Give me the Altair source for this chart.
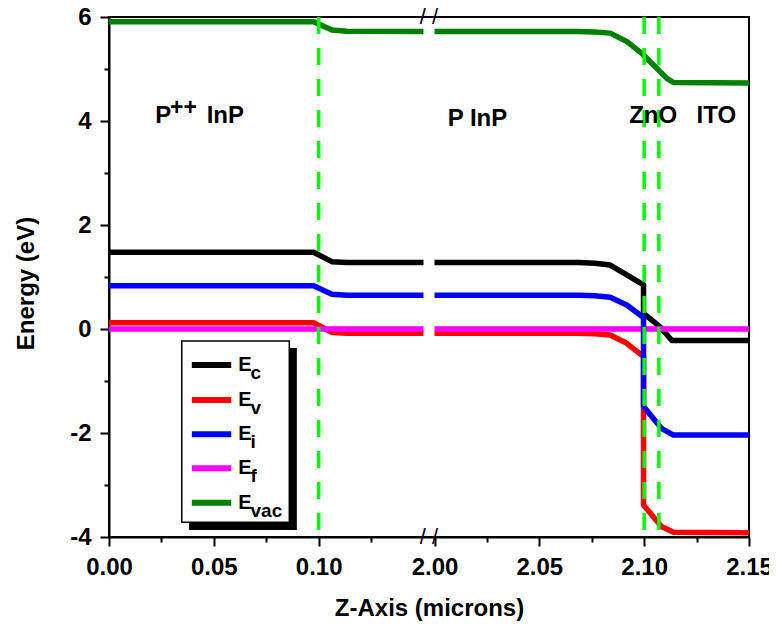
import altair as alt
import pandas as pd

# ---------------- data (real x in microns, energies in eV) ----------------
SERIES = ["Ec", "Ev", "Ei", "Ef", "Evac"]
COLORS = {"Ec": "#000000", "Ev": "#FF0000", "Ei": "#0000FF", "Ef": "#FF00FF", "Evac": "#008000"}
SUBS = {"Ec": "c", "Ev": "v", "Ei": "i", "Ef": "f", "Evac": "vac"}

left_x = [0.0, 0.0976, 0.1063, 0.1135, 0.15]
ec_left = [1.475, 1.475, 1.295, 1.28, 1.28]
ev_left = [0.12, 0.12, -0.065, -0.08, -0.08]
ei_left = [0.83, 0.83, 0.67, 0.65, 0.65]
ef_left = [0.0, 0.0, 0.0, 0.0, 0.0]
evac_left = [5.91, 5.91, 5.75, 5.725, 5.72]

ec_right_x = [2.0, 2.069, 2.0765, 2.0838, 2.0917, 2.0997, 2.0997, 2.1076, 2.1132, 2.15]
ec_right = [1.28, 1.28, 1.265, 1.23, 1.04, 0.85, 0.30, 0.04, -0.22, -0.22]
ev_right_x = [2.0, 2.069, 2.0765, 2.0838, 2.0917, 2.0997, 2.0997, 2.1082, 2.114, 2.15]
ev_right = [-0.08, -0.08, -0.09, -0.115, -0.275, -0.53, -3.385, -3.80, -3.91, -3.92]
ei_right_x = [2.0, 2.069, 2.0765, 2.0838, 2.0917, 2.0997, 2.0997, 2.1082, 2.114, 2.15]
ei_right = [0.65, 0.65, 0.64, 0.61, 0.46, 0.22, -1.49, -1.91, -2.04, -2.04]
ef_right_x = [2.0, 2.15]
ef_right = [0.0, 0.0]
evac_right_x = [2.0, 2.069, 2.0765, 2.0838, 2.0917, 2.0997, 2.1108, 2.114, 2.15]
evac_right = [5.72, 5.72, 5.71, 5.69, 5.53, 5.27, 4.82, 4.74, 4.73]

interfaces = [0.10, 2.10, 2.107]

region_text = ["P", "++", "InP", "P InP", "ZnO", "ITO"]
region_x = [0.022, 0.0291, 0.0466, 2.0205, 2.1043, 2.1344]
region_y = [3.956, 4.12, 3.956, 3.913, 3.956, 3.956]

x_major = [0.0, 0.05, 0.10, 2.0, 2.05, 2.10, 2.15]
x_minor = [0.025, 0.075, 0.125, 2.025, 2.075, 2.125]
y_major = [-4, -2, 0, 2, 4, 6]
y_minor = [-3, -1, 1, 3, 5]

# legend geometry (data coordinates of the broken axis)
leg_box = {"u": 0.0347, "u2": 0.0860, "E": -0.231, "E2": -3.717}
leg_shadow = {"u": 0.0382, "u2": 0.0896, "E": -0.365, "E2": -3.865}
leg_line_u = [0.0395, 0.0583]
leg_row_E = [-0.692, -1.365, -2.025, -2.679, -3.340]
leg_E_u = 0.0617
leg_sub_u = 0.0675

# ---------------- broken axis mapping ----------------
GAP = 0.00525


def u(x):
    return x if x < 1 else x - 2.0 + 0.15 + GAP


BREAK_U = 0.15 + GAP / 2

lines = {
    "Ec": (left_x, ec_left, ec_right_x, ec_right),
    "Ev": (left_x, ev_left, ev_right_x, ev_right),
    "Ei": (left_x, ei_left, ei_right_x, ei_right),
    "Ef": (left_x, ef_left, ef_right_x, ef_right),
    "Evac": (left_x, evac_left, evac_right_x, evac_right),
}

FONT = "Liberation Sans"

label_map = {u(v): f"{v:.2f}" for v in x_major}
expr = "''"
for k, lab in label_map.items():
    expr = f"datum.value == {k!r} ? '{lab}' : ({expr})"

XSCALE = alt.Scale(domain=[0, u(2.15)], nice=False, zero=False)
YSCALE = alt.Scale(domain=[-4, 6], nice=False, zero=False)

X = alt.X(
    "u:Q",
    scale=XSCALE,
    axis=alt.Axis(
        values=[u(v) for v in x_major],
        labelExpr=expr,
        tickSize=9,
        labelPadding=9,
        titleX=320,
        titleY=78,
        titleBaseline="alphabetic",
        title="Z-Axis (microns)",
    ),
)
Y = alt.Y(
    "E:Q",
    scale=YSCALE,
    axis=alt.Axis(
        values=y_major,
        labelExpr="'' + datum.value",
        tickSize=9,
        labelPadding=9,
        titleX=-76,
        titleY=266,
        titleAngle=270,
        titleBaseline="alphabetic",
        titleAlign="center",
        title="Energy (eV)",
    ),
)

layers = []
for name in ["Ec", "Ev", "Ef", "Ei", "Evac"]:
    lx, ly, rx, ry = lines[name]
    rows = []
    i = 0
    for xv, ev in zip(lx, ly):
        rows.append({"u": u(xv), "E": ev, "seg": "L", "idx": i}); i += 1
    for xv, ev in zip(rx, ry):
        rows.append({"u": u(xv), "E": ev, "seg": "R", "idx": i}); i += 1
    df = pd.DataFrame(rows)
    layers.append(
        alt.Chart(df).mark_line(strokeWidth=5.5, color=COLORS[name], strokeJoin="round")
        .encode(x=X, y=Y, detail="seg:N", order="idx:Q")
    )

# interface dashed lines
df_if = pd.DataFrame({"u": [u(v) for v in interfaces]})
layers.append(
    alt.Chart(df_if).mark_rule(color="#00FF00", strokeWidth=3.5, strokeDash=[17, 14]).encode(x=X)
)

# region labels
df_reg = pd.DataFrame({"u": [u(v) for v in region_x], "E": region_y, "t": region_text,
                       "al": ["left", "left", "left", "center", "center", "center"],
                       "fs": [24, 23, 24, 24, 24, 24]})
for al in ["left", "center"]:
    sub = df_reg[df_reg.al == al]
    for fs in sorted(sub.fs.unique()):
        s2 = sub[sub.fs == fs]
        layers.append(
            alt.Chart(s2).mark_text(font=FONT, fontWeight="bold", fontSize=int(fs), align=al,
                                    baseline="alphabetic", color="black")
            .encode(x=X, y=Y, text="t:N")
        )

# axis break marks
df_br = pd.DataFrame({"u": [BREAK_U, BREAK_U], "E": [6, -4], "t": ["/ /", "/ /"]})
layers.append(
    alt.Chart(df_br).mark_text(font=FONT, fontSize=22, align="center", baseline="middle", color="black")
    .encode(x=X, y=Y, text="t:N")
)

# legend
df_sh = pd.DataFrame([leg_shadow])
df_bx = pd.DataFrame([leg_box])
layers.append(alt.Chart(df_sh).mark_rect(color="black").encode(x=X, x2="u2", y=Y, y2="E2"))
layers.append(alt.Chart(df_bx).mark_rect(fill="white", stroke="black", strokeWidth=1.5)
              .encode(x=X, x2="u2", y=Y, y2="E2"))
for name, ev in zip(SERIES, leg_row_E):
    df_l = pd.DataFrame({"u": leg_line_u, "E": [ev, ev]})
    layers.append(alt.Chart(df_l).mark_line(strokeWidth=6, color=COLORS[name]).encode(x=X, y=Y))
df_e = pd.DataFrame({"u": [leg_E_u] * 5, "E": leg_row_E, "t": ["E"] * 5})
layers.append(alt.Chart(df_e).mark_text(font=FONT, fontWeight="bold", fontSize=20, align="left",
                                        baseline="alphabetic", dy=6, color="black")
              .encode(x=X, y=Y, text="t:N"))
df_s = pd.DataFrame({"u": [leg_sub_u] * 5, "E": leg_row_E, "t": [SUBS[s] for s in SERIES]})
layers.append(alt.Chart(df_s).mark_text(font=FONT, fontWeight="bold", fontSize=19, align="left",
                                        baseline="alphabetic", dy=14, color="black")
              .encode(x=X, y=Y, text="t:N"))

main = alt.layer(*layers)

# minor ticks on their own axes (no labels, shorter ticks)
df_minor = pd.DataFrame({"u": [u(0.05)], "E": [0.0]})
minor = alt.Chart(df_minor).mark_point(opacity=0).encode(
    x=alt.X("u:Q", scale=XSCALE,
            axis=alt.Axis(values=[u(v) for v in x_minor], tickSize=5, labels=False,
                          domain=False, title=None, orient="bottom")),
    y=alt.Y("E:Q", scale=YSCALE,
            axis=alt.Axis(values=y_minor, tickSize=5, labels=False,
                          domain=False, title=None, orient="left")),
)

chart = alt.layer(main, minor).resolve_axis(x="independent", y="independent").properties(
    width=640, height=520,
    autosize=alt.AutoSizeParams(type="none"),
    padding={"left": 101, "top": 9, "right": 20, "bottom": 92},
).configure_view(stroke="black", strokeWidth=2).configure_axis(
    grid=False,
    domainColor="black", domainWidth=2,
    tickColor="black", tickWidth=2,
    labelFont=FONT, labelFontSize=24, labelFontWeight="bold", labelColor="black",
    titleFont=FONT, titleFontSize=24, titleFontWeight="bold", titleColor="black",
    labelFlush=False, labelOverlap=False,
)

chart.save("out.html", embed_options={"renderer": "svg", "actions": False})
